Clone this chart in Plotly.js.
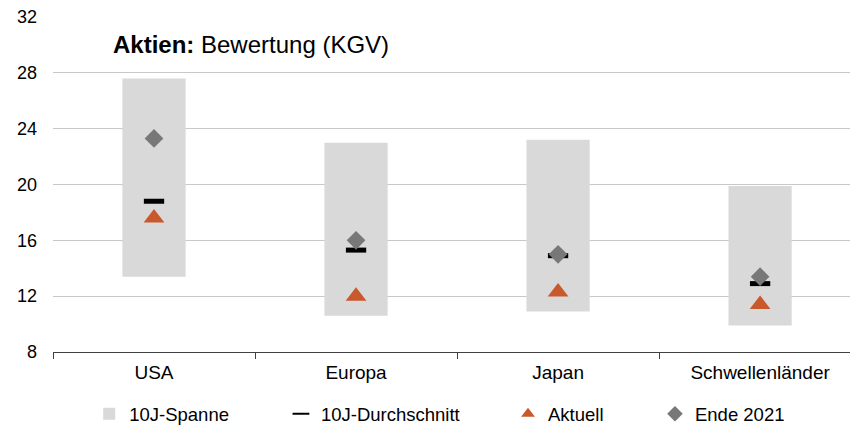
<!DOCTYPE html>
<html><head><meta charset="utf-8">
<script src="https://cdn.plot.ly/plotly-3.0.1.min.js"></script>
<style>html,body{margin:0;padding:0;background:#fff}#chart{width:850px;height:425px}</style>
</head><body><div id="chart"></div>
<script>
const categories = ['USA', 'Europa', 'Japan', 'Schwellenländer'];
const rangeLow = [13.4, 10.6, 10.9, 9.9];
const rangeHigh = [27.6, 23.0, 23.2, 19.9];
const average10y = [18.8, 15.3, 14.9, 12.9];
const current = [17.6, 12.0, 12.3, 11.4];
const end2021 = [23.3, 16.0, 15.0, 13.4];
const yTicks = [8, 12, 16, 20, 24, 28, 32];
const seriesNames = ['10J-Spanne', '10J-Durchschnitt', 'Aktuell', 'Ende 2021'];
const titleText = '<b>Aktien:</b> Bewertung (KGV)';

const FONT = 'Arial, "Liberation Sans", sans-serif';

const traces = [
  {
    type: 'bar', name: seriesNames[0], legend: 'legend',
    x: categories, base: rangeLow,
    y: rangeHigh.map((h, i) => h - rangeLow[i]),
    width: 0.313, marker: {color: '#d9d9d9', line: {width: 0}}
  },
  {
    type: 'scatter', mode: 'markers', name: seriesNames[1], legend: 'legend2',
    x: categories, y: average10y,
    marker: {symbol: 'line-ew', size: 14.5, color: '#000', line: {color: '#000', width: 5}}
  },
  {
    type: 'scatter', mode: 'markers', name: seriesNames[2], legend: 'legend3',
    x: categories, y: current,
    marker: {symbol: 'triangle-up', size: 18, color: '#c9582c'}
  },
  {
    type: 'scatter', mode: 'markers', name: seriesNames[3], legend: 'legend4',
    x: categories, y: end2021,
    marker: {symbol: 'diamond', size: 14.4, color: '#787878'}
  }
];

function leg(x) {
  return {orientation: 'h', x: x, xanchor: 'left', y: 0.070, yanchor: 'top', yref: 'container',
    font: {family: FONT, size: 18.5, color: '#000'}, itemsizing: 'constant', bgcolor: 'rgba(0,0,0,0)'};
}

const layout = {
  width: 850, height: 425,
  margin: {l: 53, r: 0, t: 17, b: 73},
  paper_bgcolor: '#fff', plot_bgcolor: '#fff',
  font: {family: FONT, size: 17, color: '#000'},
  showlegend: true, hovermode: false,
  xaxis: {type: 'category', range: [-0.5, 3.445], tickson: 'boundaries', ticks: 'outside', ticklen: 6,
    tickcolor: '#404040', showline: true, linecolor: '#404040', linewidth: 1, showgrid: false,
    tickfont: {family: FONT, size: 19, color: '#000'}, ticklabelstandoff: 3},
  yaxis: {range: [8, 32], tickvals: yTicks, showgrid: true, gridcolor: '#c8c8c8', gridwidth: 1,
    zeroline: false, showline: false, ticks: '', ticklabelstandoff: 15,
    tickfont: {family: FONT, size: 18, color: '#000'}},
  legend: leg(0.0454),
  legend2: leg(0.286),
  legend3: leg(0.5709),
  legend4: leg(0.7553),
  annotations: [{text: titleText, xref: 'paper', yref: 'paper', x: 0.0728, y: 0.919,
    xanchor: 'left', yanchor: 'middle', showarrow: false, font: {family: FONT, size: 24, color: '#000'}}]
};

Plotly.newPlot('chart', traces, layout, {staticPlot: true, displayModeBar: false});
</script>
</body></html>
